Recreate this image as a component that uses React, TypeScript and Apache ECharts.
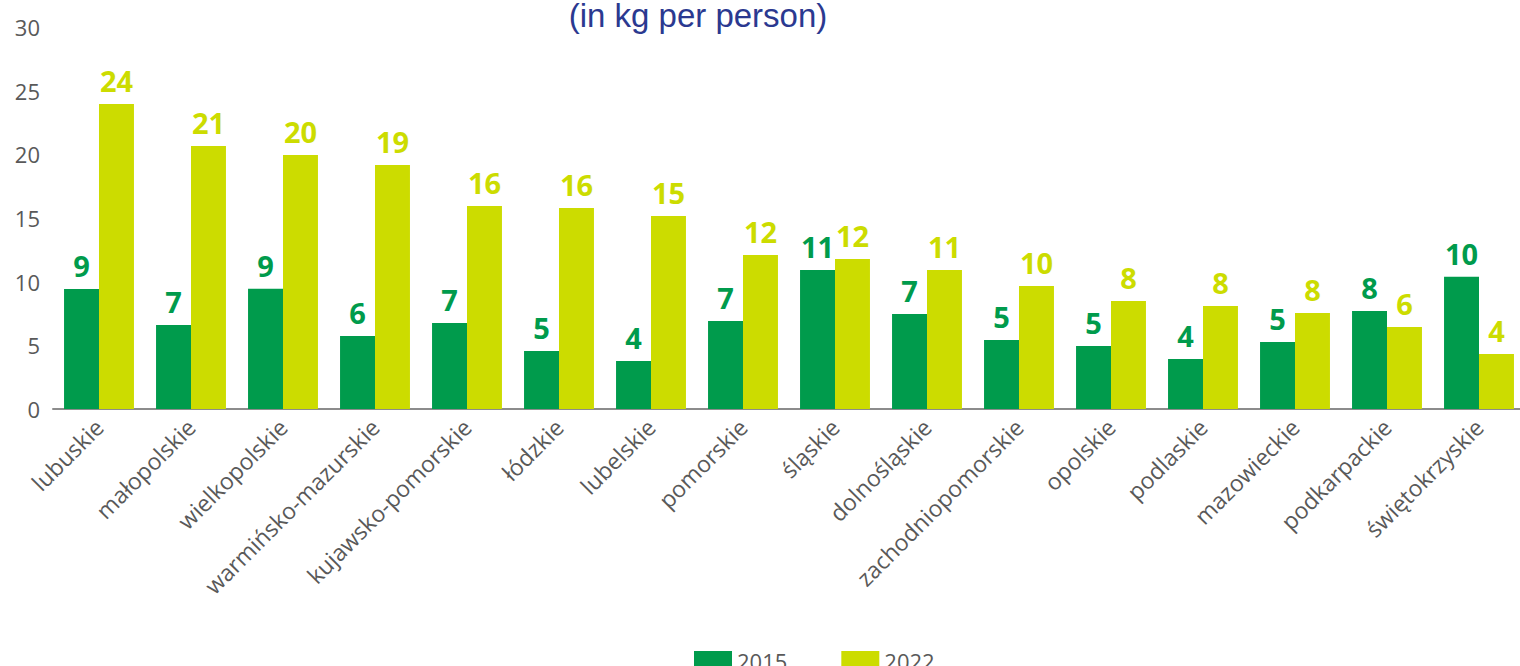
import React, { useEffect, useRef } from "react";
import * as echarts from "echarts";

const categories = [
  "lubuskie", "małopolskie", "wielkopolskie", "warmińsko-mazurskie", "kujawsko-pomorskie",
  "łódzkie", "lubelskie", "pomorskie", "śląskie", "dolnośląskie", "zachodniopomorskie",
  "opolskie", "podlaskie", "mazowieckie", "podkarpackie", "świętokrzyskie",
];
const values2015 = [9.43, 6.6, 9.45, 5.73, 6.76, 4.56, 3.77, 6.91, 10.92, 7.46, 5.42, 4.95, 3.93, 5.26, 7.7, 10.39];
const values2022 = [23.96, 20.66, 19.95, 19.17, 15.95, 15.79, 15.16, 12.1, 11.78, 10.92, 9.66, 8.48, 8.09, 7.54, 6.44, 4.32];
const yTicks = { min: 0, max: 30, interval: 5 };
const title = "(in kg per person)";

const GREEN = "#009B4C";
const LIME = "#CCDC00";

export default function App() {
  const ref = useRef<HTMLDivElement>(null);
  useEffect(() => {
    if (!ref.current) return;
    const chart = echarts.init(ref.current, undefined, { renderer: "svg" });
    const labelCommon = {
      show: true,
      position: "top",
      distance: 9,
      fontFamily: "Open Sans",
      fontWeight: "bold",
      fontSize: 29,
      formatter: (p: any) => String(Math.round(p.value)),
    };
    chart.setOption({
      animation: false,
      title: {
        text: title,
        left: 693,
        textAlign: "center",
        top: -6,
        textStyle: { fontFamily: "Liberation Sans", fontWeight: "normal", fontSize: 33, color: "#2B3990" },
      },
      legend: {
        top: 645,
        left: 689,
        itemWidth: 38,
        itemHeight: 20,
        itemGap: 54,
        icon: "rect",
        textStyle: { fontFamily: "Open Sans", fontSize: 22, color: "#595959" },
        data: ["2015", "2022"],
      },
      grid: { left: 53, right: 5, top: 27, bottom: 257, containLabel: false },
      xAxis: {
        type: "category",
        data: categories,
        axisLine: { lineStyle: { color: "#8c8c8c", width: 2 } },
        axisTick: { show: false },
        axisLabel: {
          rotate: 45,
          interval: 0,
          margin: 14,
          fontFamily: "Open Sans",
          fontSize: 23,
          color: "#595959",
        },
      },
      yAxis: {
        type: "value",
        min: yTicks.min,
        max: yTicks.max,
        interval: yTicks.interval,
        splitLine: { show: false },
        axisLine: { show: false },
        axisTick: { show: false },
        axisLabel: { fontFamily: "Open Sans", fontSize: 22, color: "#595959", margin: 13 },
      },
      series: [
        {
          name: "2015",
          type: "bar",
          data: values2015,
          barGap: "0%",
          barCategoryGap: "24%",
          itemStyle: { color: GREEN },
          label: { ...labelCommon, color: GREEN },
        },
        {
          name: "2022",
          type: "bar",
          data: values2022,
          barGap: "0%",
          barCategoryGap: "24%",
          itemStyle: { color: LIME },
          label: { ...labelCommon, color: LIME },
        },
      ],
    });
    return () => chart.dispose();
  }, []);
  return (
    <div style={{ position: "fixed", left: 0, top: 0, width: 1520, height: 666, overflow: "hidden", background: "#fff" }}>
      <div ref={ref} style={{ width: 1530, height: 666 }} />
    </div>
  );
}
